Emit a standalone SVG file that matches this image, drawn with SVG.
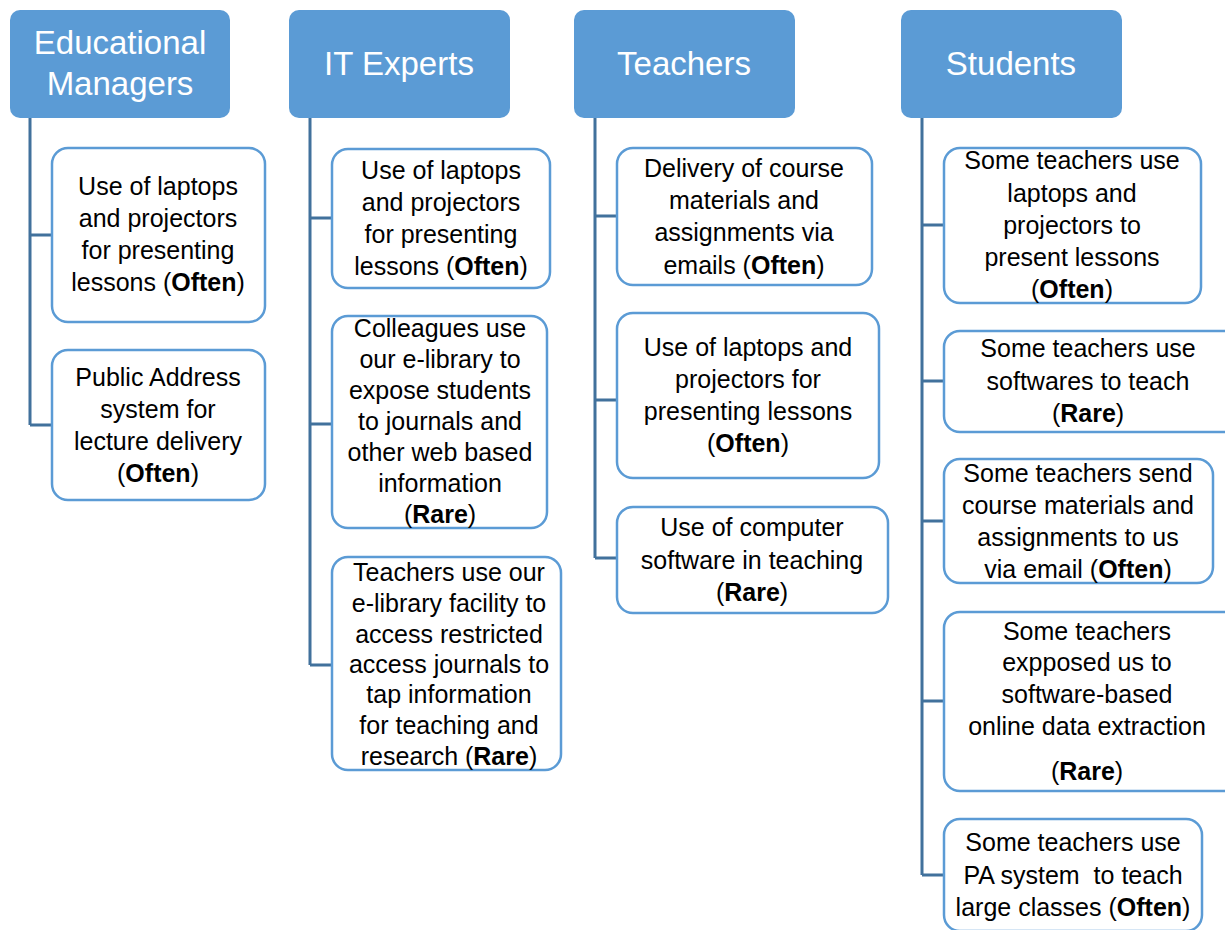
<svg xmlns="http://www.w3.org/2000/svg" width="1225" height="930" viewBox="0 0 1225 930">
<style>
.hdr{fill:#5B9BD5;}
.ht{font-family:"Liberation Sans",Arial,sans-serif;font-size:33px;fill:#ffffff;text-anchor:middle;}
.box{fill:#ffffff;stroke:#5B9BD5;stroke-width:2.5;}
.t{font-family:"Liberation Sans",Arial,sans-serif;font-size:25px;fill:#000000;text-anchor:middle;}
.b{font-weight:bold;}
.con{fill:none;stroke:#41719C;stroke-width:3;}
</style>
<rect width="1225" height="930" fill="#ffffff"/>
<g id="connectors">
<path class="con" d="M30 118 V425 M30 235 H52 M30 425 H52"/>
<path class="con" d="M310 118 V665 M310 218 H332 M310 424 H332 M310 665 H332"/>
<path class="con" d="M595 118 V558 M595 216 H617 M595 400 H617 M595 558 H617"/>
<path class="con" d="M922 118 V875 M922 225 H944 M922 381 H944 M922 521 H944 M922 701 H944 M922 875 H944"/>
</g>
<g id="h-edu">
<rect class="hdr" x="10" y="10" width="220" height="108" rx="10"/>
<text class="ht" x="120" y="54">Educational</text>
<text class="ht" x="120" y="95">Managers</text>
</g>
<g id="h-it">
<rect class="hdr" x="289" y="10" width="221" height="108" rx="10"/>
<text class="ht" x="399" y="75">IT Experts</text>
</g>
<g id="h-teachers">
<rect class="hdr" x="574" y="10" width="221" height="108" rx="10"/>
<text class="ht" x="684" y="75">Teachers</text>
</g>
<g id="h-students">
<rect class="hdr" x="901" y="10" width="221" height="108" rx="10"/>
<text class="ht" x="1011" y="75">Students</text>
</g>
<g id="edu-1">
<rect class="box" x="52" y="148" width="213" height="174" rx="16"/>
<text class="t" x="158" y="195">Use of laptops</text>
<text class="t" x="158" y="227">and projectors</text>
<text class="t" x="158" y="259">for presenting</text>
<text class="t" x="158" y="291">lessons (<tspan class="b">Often</tspan>)</text>
</g>
<g id="edu-2">
<rect class="box" x="52" y="350" width="213" height="150" rx="16"/>
<text class="t" x="158" y="386">Public Address</text>
<text class="t" x="158" y="418">system for</text>
<text class="t" x="158" y="450">lecture delivery</text>
<text class="t" x="158" y="482">(<tspan class="b">Often</tspan>)</text>
</g>
<g id="it-1">
<rect class="box" x="332" y="149" width="218" height="139" rx="16"/>
<text class="t" x="441" y="179">Use of laptops</text>
<text class="t" x="441" y="211">and projectors</text>
<text class="t" x="441" y="243">for presenting</text>
<text class="t" x="441" y="275">lessons (<tspan class="b">Often</tspan>)</text>
</g>
<g id="it-2">
<rect class="box" x="332" y="316" width="215" height="212" rx="16"/>
<text class="t" x="440" y="337">Colleagues use</text>
<text class="t" x="440" y="368">our e-library to</text>
<text class="t" x="440" y="399">expose students</text>
<text class="t" x="440" y="430">to journals and</text>
<text class="t" x="440" y="461">other web based</text>
<text class="t" x="440" y="492">information</text>
<text class="t" x="440" y="523">(<tspan class="b">Rare</tspan>)</text>
</g>
<g id="it-3">
<rect class="box" x="332" y="557" width="229" height="213" rx="16"/>
<text class="t" x="449" y="581">Teachers use our</text>
<text class="t" x="449" y="612">e-library facility to</text>
<text class="t" x="449" y="643">access restricted</text>
<text class="t" x="449" y="673">access journals to</text>
<text class="t" x="449" y="703">tap information</text>
<text class="t" x="449" y="734">for teaching and</text>
<text class="t" x="449" y="765">research (<tspan class="b">Rare</tspan>)</text>
</g>
<g id="t-1">
<rect class="box" x="617" y="148" width="255" height="137" rx="16"/>
<text class="t" x="744" y="177">Delivery of course</text>
<text class="t" x="744" y="209">materials and</text>
<text class="t" x="744" y="241">assignments via</text>
<text class="t" x="744" y="274">emails (<tspan class="b">Often</tspan>)</text>
</g>
<g id="t-2">
<rect class="box" x="617" y="313" width="262" height="165" rx="16"/>
<text class="t" x="748" y="356">Use of laptops and</text>
<text class="t" x="748" y="388">projectors for</text>
<text class="t" x="748" y="420">presenting lessons</text>
<text class="t" x="748" y="452">(<tspan class="b">Often</tspan>)</text>
</g>
<g id="t-3">
<rect class="box" x="617" y="507" width="271" height="106" rx="16"/>
<text class="t" x="752" y="536">Use of computer</text>
<text class="t" x="752" y="569">software in teaching</text>
<text class="t" x="752" y="601">(<tspan class="b">Rare</tspan>)</text>
</g>
<g id="s-1">
<rect class="box" x="944" y="148" width="257" height="155" rx="16"/>
<text class="t" x="1072" y="169">Some teachers use</text>
<text class="t" x="1072" y="202">laptops and</text>
<text class="t" x="1072" y="234">projectors to</text>
<text class="t" x="1072" y="266">present lessons</text>
<text class="t" x="1072" y="298">(<tspan class="b">Often</tspan>)</text>
</g>
<g id="s-2">
<rect class="box" x="944" y="331" width="296" height="101" rx="16"/>
<text class="t" x="1088" y="357">Some teachers use</text>
<text class="t" x="1088" y="390">softwares to teach</text>
<text class="t" x="1088" y="422">(<tspan class="b">Rare</tspan>)</text>
</g>
<g id="s-3">
<rect class="box" x="944" y="459" width="269" height="124" rx="16"/>
<text class="t" x="1078" y="482">Some teachers send</text>
<text class="t" x="1078" y="514">course materials and</text>
<text class="t" x="1078" y="546">assignments to us</text>
<text class="t" x="1078" y="578">via email (<tspan class="b">Often</tspan>)</text>
</g>
<g id="s-4">
<rect class="box" x="944" y="612" width="296" height="179" rx="16"/>
<text class="t" x="1087" y="640">Some teachers</text>
<text class="t" x="1087" y="671">expposed us to</text>
<text class="t" x="1087" y="703">software-based</text>
<text class="t" x="1087" y="735">online data extraction</text>
<text class="t" x="1087" y="780">(<tspan class="b">Rare</tspan>)</text>
</g>
<g id="s-5">
<rect class="box" x="944" y="819" width="258" height="112" rx="16"/>
<text class="t" x="1073" y="851">Some teachers use</text>
<text class="t" x="1073" y="884" xml:space="preserve">PA system  to teach</text>
<text class="t" x="1073" y="916">large classes (<tspan class="b">Often</tspan>)</text>
</g>
</svg>
